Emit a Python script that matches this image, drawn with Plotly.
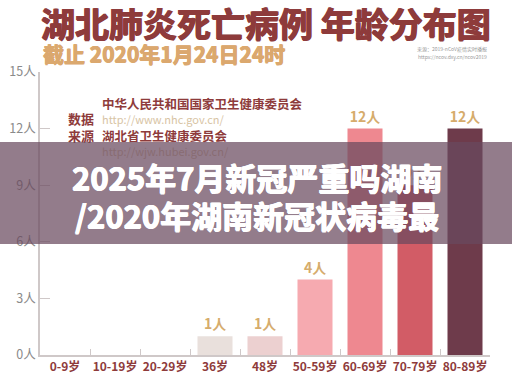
import plotly.graph_objects as go

categories = ["0-9岁", "10-19岁", "20-29岁", "36岁", "48岁", "50-59岁", "60-69岁", "70-79岁", "80-89岁"]
deaths = [0, 0, 0, 1, 1, 4, 12, 9, 12]
bar_colors = ["#e8dcd8", "#e8dcd8", "#e8dcd8", "#e9e0dc", "#ecd0d0", "#f6aab0", "#ee8890", "#d25c66", "#6e3b4b"]
y_ticks = [0, 3, 6, 9, 12, 15]
y_tick_labels = [f"{v}人" for v in y_ticks]
bar_labels = [f"{v}人" if v else "" for v in deaths]

CJK = "Noto Sans CJK SC"

# plot area in pixels: x 40..490, y 72..355
def px(x):
    return (x - 40) / 450

def py(y):
    return (355 - y) / 283

def heavy(c, d=0.6):
    return f"{d}px 0 0 {c}, -{d}px 0 0 {c}, 0 {d}px 0 {c}"

fig = go.Figure()
fig.add_trace(go.Bar(
    x=categories, y=deaths, width=0.7,
    marker=dict(color=bar_colors, line=dict(width=0)),
    text=bar_labels, textposition="outside", cliponaxis=False,
    textfont=dict(family=CJK, size=14, color="#d6ac6c", weight="bold"),
    hoverinfo="skip",
))

ann = []
def add(text, x, y, size, color, xanchor="left", weight="bold", shadow=None, align="left"):
    f = dict(family=CJK, size=size, color=color, weight=weight)
    if shadow:
        f["shadow"] = shadow
    ann.append(dict(text=text, x=px(x), y=py(y), xref="paper", yref="paper",
                    xanchor=xanchor, yanchor="middle", showarrow=False, font=f, align=align))

add("湖北肺炎死亡病例 年龄分布图", 39, 22, 34, "#8e3b3b", shadow=heavy("#8e3b3b", 0.8))
add("截止 2020年1月24日24时", 41, 53, 21, "#dba86e", shadow=heavy("#dba86e", 0.5))
add("来源：2019-nCoV疫情实时播报", 489, 49, 5, "#999999", xanchor="right", weight="normal")
add("https://ncov.dxy.cn/ncov2019", 489, 57, 5, "#999999", xanchor="right", weight="normal")
add("数据", 81, 119, 13, "#8e3b3b", xanchor="center")
add("来源", 81, 135, 13, "#8e3b3b", xanchor="center")
add("中华人民共和国国家卫生健康委员会", 100, 103, 12.5, "#8e3b3b")
add("http://www.nhc.gov.cn/", 100, 119, 11, "#d8c4a4", weight="normal")
add("湖北省卫生健康委员会", 100, 135, 12.5, "#8e3b3b")
add("http://wjw.hubei.gov.cn/", 100, 151, 11, "#d8c4a4", weight="normal")

# translucent overlay banner (as annotation so it sits above earlier annotations)
ann.append(dict(text=" ", x=px(256), y=py(193), xref="paper", yref="paper",
                xanchor="center", yanchor="middle", showarrow=False,
                width=516, height=102, bgcolor="rgba(105,74,94,0.72)",
                borderpad=0, borderwidth=0, font=dict(size=10)))
add("2025年7月新冠严重吗湖南", 257, 176, 31, "#ffffff", xanchor="center", shadow=heavy("#ffffff", 0.6))
add("/2020年湖南新冠状病毒最", 257, 214, 31, "#ffffff", xanchor="center", shadow=heavy("#ffffff", 0.6))

fig.update_layout(
    width=512, height=386,
    margin=dict(l=40, r=22, t=72, b=31, autoexpand=False),
    paper_bgcolor="#ffffff", plot_bgcolor="#ffffff",
    showlegend=False, bargap=0.3,
    annotations=ann,
    xaxis=dict(showline=True, linecolor="#cfc8c8", linewidth=1.5,
               ticks="inside", tickson="boundaries", ticklen=6, tickcolor="#cfc8c8",
               showgrid=False, fixedrange=True, tickangle=0,
               tickfont=dict(family=CJK, size=12, color="#8e3b3b", weight="bold")),
    yaxis=dict(range=[0, 15], tickvals=y_ticks, ticktext=y_tick_labels,
               showline=True, linecolor="#cfc8c8", linewidth=1.5,
               ticks="inside", ticklen=10, tickcolor="#cfc8c8",
               showgrid=False, zeroline=False, fixedrange=True,
               tickfont=dict(family=CJK, size=12.5, color="#8a8a8a")),
)

fig.write_html("out.html", config={"displayModeBar": False},
               post_script="document.body.style.margin='0';document.body.style.overflow='hidden';")
